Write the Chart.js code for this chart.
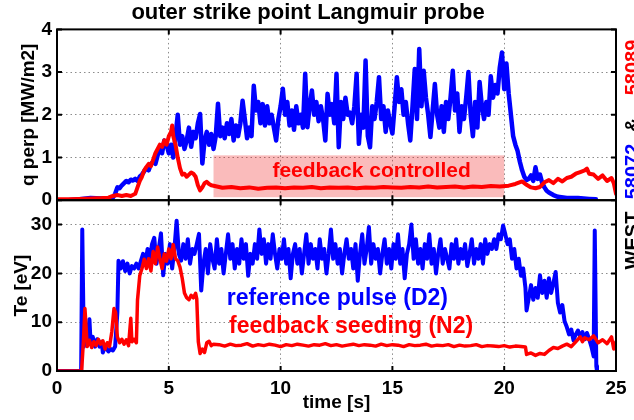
<!DOCTYPE html>
<html><head><meta charset="utf-8">
<script src="https://cdn.jsdelivr.net/npm/chart.js@4.4.1/dist/chart.umd.min.js"></script>
<style>html,body{margin:0;padding:0;background:#fff}</style>
</head><body>
<canvas id="c" width="634" height="420"></canvas>
<script>
// ---------- data ----------
const titleText = 'outer strike point Langmuir probe';
const timeTicks = [0, 5, 10, 15, 20, 25];
const qTicks = [0, 1, 2, 3, 4];
const teTicks = [0, 10, 20, 30];

// q perp [MW/m2], shot 58072 (reference, blue): [time s, value]
const q58072 = [[0,0],[0.5,0],[1.0,0.02],[1.5,0.05],[2.0,0.04],[2.3,0.03],[2.5,0.06],
[2.6,0.15],[2.7,0.3],[2.8,0.28],[2.9,0.35],[3.0,0.4],[3.1,0.45],[3.2,0.42],[3.3,0.48],[3.4,0.46],[3.5,0.5],[3.6,0.45],[3.7,0.55],[3.8,0.6],[3.9,0.68],[4.0,0.75],[4.1,0.7],[4.2,0.85],[4.3,0.9],[4.4,0.85],[4.5,1.05],[4.6,1.2],[4.7,1.1],[4.8,1.4],[4.9,1.3],[5.0,1.1],[5.1,1.3],[5.2,1.0],[5.3,1.5],[5.4,2.0],[5.5,1.3],[5.6,1.5],[5.7,1.2],[5.8,1.4],[5.9,1.7],[6.0,1.25],[6.1,1.6],[6.2,1.45],[6.3,1.8],[6.4,2.02],[6.5,0.86],[6.6,1.4],[6.7,1.6],[6.8,1.3],[6.9,1.55],[7.0,1.2],[7.1,1.5],[7.2,2.26],[7.3,1.5],[7.4,1.7],[7.5,1.45],[7.6,1.8],[7.7,1.55],[7.8,1.9],[7.9,1.4],[8.0,1.75],[8.1,1.5],[8.2,1.8],[8.3,2.33],[8.4,1.9],[8.5,1.45],[8.6,1.7],[8.7,1.5],[8.8,2.68],[8.9,2.1],[9.0,2.3],[9.1,1.8],[9.2,2.25],[9.3,1.75],[9.4,2.2],[9.5,1.8],[9.6,2.0],[9.7,1.7],[9.8,1.4],[9.9,1.9],[10.0,2.2],[10.1,2.61],[10.2,2.0],[10.3,2.3],[10.4,1.75],[10.5,2.1],[10.6,1.65],[10.7,2.2],[10.8,1.8],[10.9,2.0],[11.0,1.7],[11.1,2.96],[11.2,1.71],[11.3,2.2],[11.4,2.57],[11.5,2.0],[11.6,2.3],[11.7,1.85],[11.8,2.2],[11.9,1.9],[12.0,1.4],[12.1,2.49],[12.2,2.0],[12.3,2.25],[12.4,1.8],[12.5,2.96],[12.6,1.24],[12.7,2.3],[12.8,1.9],[12.9,2.4],[13.0,2.0],[13.1,2.05],[13.2,1.8],[13.3,2.2],[13.4,2.96],[13.5,1.32],[13.6,2.0],[13.7,1.7],[13.8,3.27],[13.9,1.5],[14.0,1.24],[14.1,2.2],[14.2,1.9],[14.3,2.3],[14.4,2.88],[14.5,1.9],[14.6,2.2],[14.7,1.6],[14.8,2.1],[14.9,1.8],[15.0,1.56],[15.1,2.2],[15.2,2.88],[15.3,2.3],[15.4,2.6],[15.5,2.0],[15.6,2.3],[15.7,1.8],[15.8,1.4],[15.9,2.2],[16.0,3.07],[16.1,1.9],[16.2,3.54],[16.3,2.2],[16.4,3.03],[16.5,2.4],[16.6,2.0],[16.7,1.48],[16.8,2.1],[16.9,2.72],[17.0,2.0],[17.1,1.7],[17.2,2.2],[17.3,1.6],[17.4,2.3],[17.5,1.9],[17.6,2.4],[17.7,3.03],[17.8,2.1],[17.9,2.5],[18.0,1.6],[18.1,2.2],[18.2,1.9],[18.3,2.4],[18.4,3.0],[18.5,2.0],[18.6,1.5],[18.7,2.3],[18.8,1.7],[18.9,2.77],[19.0,2.2],[19.1,1.9],[19.2,2.3],[19.3,2.0],[19.4,2.9],[19.5,2.4],[19.6,2.7],[19.7,2.5],[19.8,3.1],[19.9,3.46],[20.0,2.6],[20.1,3.2],[20.2,2.5],[20.3,2.0],[20.4,1.5],[20.5,1.3],[20.6,1.15],[20.7,0.9],[20.8,0.7],[20.9,0.55],[21.0,0.47],[21.1,0.5],[21.2,0.58],[21.3,0.45],[21.4,0.77],[21.5,0.5],[21.6,0.6],[21.7,0.4],[21.8,0.3],[21.9,0.22],[22.0,0.18],[22.2,0.12],[22.4,0.08],[22.8,0.05],[23.3,0.05],[23.8,0.03],[24.1,0.02]];

// q perp [MW/m2], shot 58089 (feedback seeding, red)
const q58089 = [[0,0.02],[0.5,0.02],[1.0,0.03],[1.5,0.04],[2.0,0.05],[2.3,0.06],[2.5,0.1],[2.7,0.12],[2.9,0.1],[3.1,0.12],[3.3,0.1],[3.5,0.15],[3.6,0.3],[3.7,0.45],[3.8,0.55],[3.9,0.7],[4.0,0.78],[4.1,0.85],[4.2,0.8],[4.3,0.95],[4.4,1.1],[4.5,1.2],[4.6,1.3],[4.7,1.25],[4.8,1.4],[4.9,1.3],[5.0,1.5],[5.1,1.6],[5.15,1.75],[5.2,1.5],[5.3,1.3],[5.4,1.0],[5.5,0.75],[5.6,0.6],[5.7,0.62],[5.8,0.55],[5.9,0.6],[6.0,0.65],[6.1,0.62],[6.2,0.55],[6.3,0.35],[6.4,0.23],[6.5,0.3],[6.6,0.4],[6.7,0.43],[6.8,0.38],[6.9,0.35],[7.0,0.34],
[7.4,0.29],[7.8,0.31],[8.2,0.28],[8.6,0.3],[9.0,0.27],[9.4,0.29],[9.8,0.3],[10.2,0.28],[10.6,0.3],[11.0,0.29],[11.4,0.31],[11.8,0.28],[12.2,0.3],[12.6,0.29],[13.0,0.3],[13.4,0.28],[13.8,0.3],[14.2,0.29],[14.6,0.31],[15.0,0.3],[15.4,0.29],[15.8,0.31],[16.2,0.3],[16.6,0.32],[17.0,0.3],[17.4,0.31],[17.8,0.32],[18.2,0.3],[18.6,0.32],[19.0,0.31],[19.4,0.33],[19.8,0.32],[20.2,0.34],
[20.5,0.38],[20.8,0.44],[21.0,0.36],[21.2,0.3],[21.4,0.28],[21.6,0.31],[21.8,0.42],[22.0,0.47],[22.2,0.4],[22.4,0.5],[22.6,0.44],[22.8,0.52],[23.0,0.55],[23.2,0.62],[23.4,0.66],[23.6,0.7],[23.7,0.74],[23.8,0.62],[24.0,0.6],[24.2,0.5],[24.4,0.58],[24.6,0.45],[24.8,0.52],[24.9,0.4],[25.0,0.15]];

// Te [eV], shot 58072 (blue)
const te58072 = [[0,0],[1.08,0],[1.13,29],[1.2,5],[1.3,8],[1.35,5.5],[1.45,10.6],[1.5,6],[1.6,7],[1.7,5],[1.8,6.5],[1.9,5],[2.0,6],[2.05,3.8],[2.15,5],[2.3,4],[2.4,4.5],[2.5,4.2],[2.6,5],[2.7,12],[2.75,22.6],[2.85,21],[2.95,22.5],[3.05,20.5],[3.15,22],[3.25,20],[3.35,21.5],[3.45,21],[3.55,22],[3.65,21],[3.75,22.5],[3.85,24],[3.95,22],[4.05,25],[4.15,23],[4.25,26],[4.35,27.3],[4.45,22],[4.55,25],[4.65,28.2],[4.75,19.6],[4.85,24],[4.95,22],[5.05,26],[5.15,21],[5.25,25],[5.35,30.8],[5.45,24],[5.55,22.6],[5.65,26],[5.75,23],[5.85,27],[5.95,22],[6.05,25],[6.15,24],[6.25,26],[6.35,28.1],[6.45,16.5],[6.55,22],[6.65,25],[6.75,20],[6.85,26],[6.95,23],[7.05,21],[7.15,27],[7.25,22],[7.35,25],[7.45,20],[7.55,24],[7.65,28],[7.75,23],[7.85,26],[7.95,21],[8.05,25],[8.15,22],[8.25,27],[8.35,23],[8.45,26],[8.55,19.5],[8.65,24],[8.75,22],[8.85,26],[8.95,23],[9.05,29],[9.15,24],[9.25,27],[9.35,22],[9.45,26],[9.55,23],[9.65,28],[9.75,24],[9.85,21],[9.95,25],[10.05,23],[10.15,27],[10.25,22],[10.35,25],[10.45,19],[10.55,24],[10.65,26],[10.75,22],[10.85,25],[10.95,20],[11.05,24],[11.15,28],[11.25,22],[11.35,26],[11.45,23],[11.55,25],[11.65,21],[11.75,27],[11.85,23],[11.95,25],[12.05,20],[12.15,24],[12.25,29],[12.35,23],[12.45,26],[12.55,22],[12.65,25],[12.75,20],[12.85,24],[12.95,27],[13.05,23],[13.15,25],[13.25,21],[13.35,26],[13.45,18.5],[13.55,24],[13.65,28],[13.75,22],[13.85,25],[13.95,29.5],[14.05,22],[14.15,26],[14.25,23],[14.35,25],[14.45,20],[14.55,24],[14.65,27],[14.75,22],[14.85,25],[14.95,21],[15.05,26],[15.15,23],[15.25,28],[15.35,22],[15.45,25],[15.55,19],[15.65,24],[15.75,26],[15.85,30],[15.95,23],[16.05,27],[16.15,22],[16.25,25],[16.35,21],[16.45,26],[16.55,23],[16.65,28],[16.75,22],[16.85,25],[16.95,20],[17.05,24],[17.15,27],[17.25,22],[17.35,25],[17.45,23],[17.55,21],[17.65,26],[17.75,23],[17.85,27],[17.95,22],[18.05,25],[18.15,23],[18.25,26],[18.35,21.5],[18.45,24],[18.55,27],[18.65,22],[18.75,25],[18.85,23],[18.95,26],[19.05,22],[19.15,27],[19.25,24],[19.35,26],[19.45,25],[19.55,27],[19.65,25],[19.75,28],[19.85,27],[19.95,29.8],[20.05,28],[20.15,26],[20.25,27],[20.35,23],[20.45,25],[20.55,21],[20.65,23],[20.75,19.5],[20.85,21],[20.95,17],[21.0,12.4],[21.1,15],[21.2,17.6],[21.3,14.6],[21.4,17],[21.5,15],[21.6,19.6],[21.7,16],[21.8,18.5],[21.9,15],[22.0,19],[22.1,16],[22.2,18],[22.3,20.3],[22.4,14],[22.5,12],[22.6,13.5],[22.7,10.2],[22.8,9],[22.9,7.5],[23.0,8.5],[23.1,6.3],[23.2,7.5],[23.3,8.3],[23.4,7],[23.5,8],[23.6,6.5],[23.7,7.8],[23.8,6.5],[23.9,5],[24.0,3],[24.05,28.8],[24.12,1],[24.15,0]];

// Te [eV], shot 58089 (red)
const te58089 = [[0,0],[1.1,0],[1.18,6],[1.25,12.8],[1.3,9],[1.35,5],[1.45,6.3],[1.55,4.8],[1.65,6],[1.75,5.2],[1.85,6.5],[1.95,5.5],[2.05,6.2],[2.15,4.5],[2.25,5.8],[2.35,5],[2.45,8],[2.55,12.8],[2.62,12],[2.7,7],[2.8,5.8],[2.9,6.5],[3.0,5.5],[3.1,6.4],[3.2,5.2],[3.3,10.8],[3.35,6],[3.45,6.5],[3.55,5.8],[3.6,14.5],[3.7,19.5],[3.8,21],[3.9,22.9],[4.0,21],[4.1,23],[4.2,20.5],[4.3,24.5],[4.4,22],[4.5,25.4],[4.6,23],[4.7,21],[4.8,24],[4.9,22.5],[5.0,25],[5.1,23],[5.2,25.9],[5.3,23],[5.4,22.6],[5.5,21.3],[5.6,19],[5.7,16],[5.8,15],[5.9,14.6],[6.0,15.5],[6.1,15],[6.2,15.9],[6.25,14.8],[6.32,6],[6.4,3.6],[6.5,4.5],[6.6,3.8],[6.7,5.8],[6.8,6.1],[6.9,5.2],[7.0,5.5],
[7.25,5.4],[7.5,5.1],[7.75,5.5],[8.0,5.2],[8.25,5.3],[8.5,5.6],[8.75,5.1],[9.0,5.4],[9.25,5.2],[9.5,5.5],[9.75,5.3],[10.0,5.0],[10.25,5.4],[10.5,5.2],[10.75,5.5],[11.0,5.3],[11.25,5.1],[11.5,5.4],[11.75,5.3],[12.0,5.6],[12.25,5.2],[12.5,5.4],[12.75,5.1],[13.0,5.3],[13.25,5.5],[13.5,5.2],[13.75,5.4],[14.0,5.3],[14.25,5.1],[14.5,5.5],[14.75,5.2],[15.0,5.4],[15.25,5.3],[15.5,5.0],[15.75,5.4],[16.0,5.2],[16.25,5.3],[16.5,5.5],[16.75,5.1],[17.0,5.3],[17.25,5.2],[17.5,5.4],[17.75,5.0],[18.0,5.3],[18.25,5.1],[18.5,5.2],[18.75,5.4],[19.0,5.0],[19.25,5.2],[19.5,5.1],[19.75,5.0],[20.0,5.2],[20.25,4.9],[20.5,5.1],[20.75,5.0],[20.95,4.9],
[21.0,3.4],[21.2,3.7],[21.4,3.2],[21.6,3.6],[21.8,3.4],[22.0,4.2],[22.2,4.8],[22.4,4.6],[22.6,5.1],[22.8,5.5],[23.0,5.0],[23.2,6.0],[23.4,7.0],[23.5,6.0],[23.6,6.8],[23.8,6.4],[24.0,7.2],[24.2,5.8],[24.4,6.4],[24.6,5.6],[24.8,7.0],[24.9,4.5],[25.0,6.0]];

// feedback-control window (time s) and band (MW/m2)
const controlWindow = [7, 20];
const controlBand = [0.07, 1.05];
const panelLabels = [
  {text: 'feedback controlled', axis: 'yq', t: 14.07, v: 0.545, color: 'red', size: 21},
  {text: 'reference pulse (D2)', axis: 'yte', t: 12.54, v: 13.5, color: 'blue', size: 23},
  {text: 'feedback seeding (N2)', axis: 'yte', t: 13.15, v: 7.7, color: 'red', size: 23}
];
const axisTitles = [
  {text: 'q perp [MW/m2]', axis: 'yq', x: 33.5},
  {text: 'Te [eV]', axis: 'yte', x: 27}
];
const sideParts = [
  {text: 'WEST', color: '#000', y: 240.5},
  {text: '58072', color: '#0000ff', y: 171.5},
  {text: '&', color: '#000', y: 125},
  {text: '58089', color: '#ff0000', y: 67.5}
];

// ---------- chart ----------
const FAM = '"Liberation Sans", Arial, Helvetica, sans-serif';
const BLUE = '#0000ff', RED = '#ff0000';
const f19 = {family: FAM, size: 19, weight: 'bold'};
const xy = arr => arr.map(p => ({x: p[0], y: p[1]}));
const gridOpt = {color: '#8c8c8c', lineWidth: 1, drawTicks: false};
const borderOpt = {display: false, dash: [1.5, 3]};

const framePlugin = {
  id: 'frame',
  beforeDatasetsDraw(chart) {
    const {ctx, scales} = chart;
    const x = scales.x, y = scales.yq;
    const x0 = x.getPixelForValue(controlWindow[0]), x1 = x.getPixelForValue(controlWindow[1]);
    const y0 = y.getPixelForValue(controlBand[0]), y1 = y.getPixelForValue(controlBand[1]);
    ctx.save();
    ctx.fillStyle = 'rgba(240,30,30,0.3)';
    ctx.fillRect(x0, y1, x1 - x0, y0 - y1);
    ctx.restore();
  },
  afterDraw(chart) {
    const {ctx, chartArea: a, scales} = chart;
    const x = scales.x;
    ctx.save();
    ctx.textAlign = 'center';
    ctx.textBaseline = 'alphabetic';
    // labels inside the panels
    for (const L of panelLabels) {
      ctx.font = 'bold ' + L.size + 'px ' + FAM;
      ctx.fillStyle = L.color;
      ctx.fillText(L.text, x.getPixelForValue(L.t), scales[L.axis].getPixelForValue(L.v));
    }
    // y axis titles (rotated)
    ctx.font = 'bold 19px ' + FAM;
    ctx.fillStyle = '#000';
    for (const T of axisTitles) {
      const s = scales[T.axis];
      ctx.save();
      ctx.translate(T.x, (s.top + s.bottom) / 2);
      ctx.rotate(-Math.PI / 2);
      ctx.fillText(T.text, 0, 0);
      ctx.restore();
    }
    // panel frames and inward ticks
    ctx.strokeStyle = '#000';
    ctx.lineWidth = 2;
    for (const id of ['yq', 'yte']) {
      const s = scales[id];
      ctx.strokeRect(a.left, s.top, a.right - a.left, s.bottom - s.top);
      ctx.beginPath();
      for (const tk of x.ticks) {
        const px = x.getPixelForValue(tk.value);
        ctx.moveTo(px, s.top); ctx.lineTo(px, s.top + 5);
        ctx.moveTo(px, s.bottom); ctx.lineTo(px, s.bottom - 5);
      }
      for (const tk of s.ticks) {
        const py = s.getPixelForValue(tk.value);
        ctx.moveTo(a.left, py); ctx.lineTo(a.left + 5, py);
        ctx.moveTo(a.right, py); ctx.lineTo(a.right - 5, py);
      }
      ctx.stroke();
    }
    // side caption
    ctx.font = 'bold 20px ' + FAM;
    for (const p of sideParts) {
      ctx.save();
      ctx.translate(639, p.y);
      ctx.rotate(-Math.PI / 2);
      ctx.fillStyle = p.color;
      ctx.fillText(p.text, 0, 0);
      ctx.restore();
    }
    ctx.restore();
  }
};

const lineStyle = {pointRadius: 0, borderJoinStyle: 'round', borderCapStyle: 'round', tension: 0};

new Chart(document.getElementById('c'), {
  type: 'line',
  data: {
    datasets: [
      Object.assign({label: '58072 q', data: xy(q58072), yAxisID: 'yq', borderColor: BLUE, borderWidth: 4.5, order: 4}, lineStyle),
      Object.assign({label: '58072 Te', data: xy(te58072), yAxisID: 'yte', borderColor: BLUE, borderWidth: 4, order: 3}, lineStyle),
      Object.assign({label: '58089 q', data: xy(q58089), yAxisID: 'yq', borderColor: RED, borderWidth: 4, order: 2}, lineStyle),
      Object.assign({label: '58089 Te', data: xy(te58089), yAxisID: 'yte', borderColor: RED, borderWidth: 3.5, order: 1}, lineStyle)
    ]
  },
  options: {
    responsive: false,
    animation: false,
    layout: {padding: {left: 0, right: 18, top: 0, bottom: 0}},
    plugins: {
      legend: {display: false},
      tooltip: {enabled: false},
      title: {display: true, text: titleText, color: '#000', font: {family: FAM, size: 22, weight: 'bold'}, padding: {top: 0, bottom: 3}}
    },
    scales: {
      x: {
        type: 'linear', min: 0, max: 25,
        afterBuildTicks: s => { s.ticks = timeTicks.map(v => ({value: v})); },
        ticks: {font: f19, color: '#000', padding: 6, maxRotation: 0},
        grid: gridOpt, border: borderOpt,
        title: {display: true, text: 'time [s]', color: '#000', font: f19, padding: {top: 0, bottom: 6}},
        afterFit: s => { s.height = 49; }
      },
      yq: {
        type: 'linear', position: 'left', stack: 'panels', stackWeight: 1, weight: 1,
        min: 0, max: 4,
        afterBuildTicks: s => { s.ticks = qTicks.map(v => ({value: v})); },
        ticks: {font: f19, color: '#000', padding: 5},
        grid: gridOpt, border: borderOpt,
        afterFit: s => { s.width = 57; }
      },
      yte: {
        type: 'linear', position: 'left', stack: 'panels', stackWeight: 1, weight: 0,
        min: 0, max: 35,
        afterBuildTicks: s => { s.ticks = teTicks.map(v => ({value: v})); },
        ticks: {font: f19, color: '#000', padding: 5},
        grid: gridOpt, border: borderOpt,
        afterFit: s => { s.width = 57; }
      }
    }
  },
  plugins: [framePlugin]
});
</script>
</body></html>
